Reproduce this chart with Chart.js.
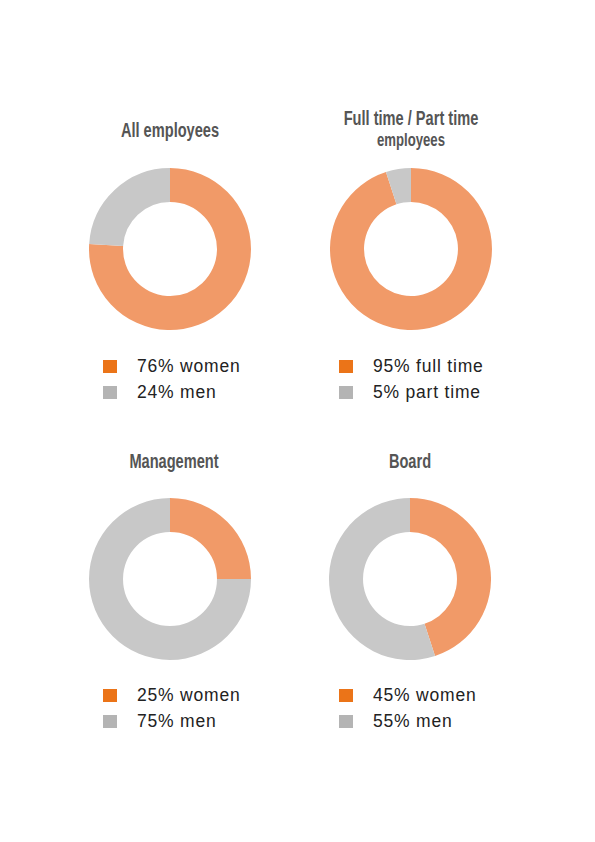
<!DOCTYPE html>
<html>
<head>
<meta charset="utf-8">
<script src="https://cdn.jsdelivr.net/npm/chart.js@4"></script>
<style>
    body { margin: 0; background: #fff; }
    #page { position: relative; width: 595px; height: 842px; overflow: hidden; }
    .donut { position: absolute; width: 162px; height: 162px; }
    .title {
        position: absolute; width: 240px; text-align: center;
        font-family: "Liberation Sans", Arial, sans-serif;
        font-weight: bold; color: #555; line-height: 22px;
        transform: scaleX(0.73); transform-origin: center top;
    }
    .title .main { font-size: 20px; }
    .title .sub { font-size: 18px; }
    .legend { position: absolute; font-family: "Liberation Sans", Arial, sans-serif; }
    .legend .row { display: flex; align-items: center; height: 26px; font-size: 17.5px; color: #222; letter-spacing: 0.8px; }
    .legend .box { width: 14px; height: 13px; margin-right: 20px; }
</style>
</head>
<body>
<div id="page"></div>
<script>
// data
const chartTitles = ["All employees", "Full time / Part time", "Management", "Board"];
const chartSubtitles = ["", "employees", "", ""];
const sliceLabels = [
    ["women", "men"],
    ["full time", "part time"],
    ["women", "men"],
    ["women", "men"]
];
const sliceValues = [
    [76, 24],
    [95, 5],
    [25, 75],
    [45, 55]
];

// look
const sliceColors = ["#f19a68", "#c8c8c8"];
const boxColors = ["#eb7418", "#b4b4b4"];
const centers = [[170, 249], [411, 249], [170, 579], [410, 579]];
const titleTops = [119, 107, 450, 450];
const legendPos = [[103, 353], [339, 353], [103, 682], [339, 682]];

const page = document.getElementById("page");

chartTitles.forEach((title, i) => {
    const [cx, cy] = centers[i];

    const t = document.createElement("div");
    t.className = "title";
    t.style.left = (cx - 120 + (i === 2 ? 4 : 0)) + "px";
    t.style.top = titleTops[i] + "px";
    t.innerHTML = '<div class="main"></div>' + (chartSubtitles[i] ? '<div class="sub"></div>' : '');
    t.querySelector(".main").textContent = title;
    if (chartSubtitles[i]) t.querySelector(".sub").textContent = chartSubtitles[i];
    page.appendChild(t);

    const box = document.createElement("div");
    box.className = "donut";
    box.style.left = (cx - 81) + "px";
    box.style.top = (cy - 81) + "px";
    const canvas = document.createElement("canvas");
    box.appendChild(canvas);
    page.appendChild(box);

    new Chart(canvas, {
        type: "doughnut",
        data: {
            labels: sliceLabels[i],
            datasets: [{
                data: sliceValues[i],
                backgroundColor: sliceColors,
                borderWidth: 0,
            }]
        },
        options: {
            responsive: true,
            maintainAspectRatio: false,
            animation: false,
            cutout: "58%",
            layout: { padding: 0 },
            plugins: {
                legend: { display: false },
                tooltip: { enabled: false },
            }
        }
    });

    const lg = document.createElement("div");
    lg.className = "legend";
    lg.style.left = legendPos[i][0] + "px";
    lg.style.top = legendPos[i][1] + "px";
    sliceLabels[i].forEach((lab, j) => {
        const row = document.createElement("div");
        row.className = "row";
        const sq = document.createElement("div");
        sq.className = "box";
        sq.style.background = boxColors[j];
        const txt = document.createElement("span");
        txt.textContent = sliceValues[i][j] + "% " + lab;
        row.appendChild(sq);
        row.appendChild(txt);
        lg.appendChild(row);
    });
    page.appendChild(lg);
});
</script>
</body>
</html>
